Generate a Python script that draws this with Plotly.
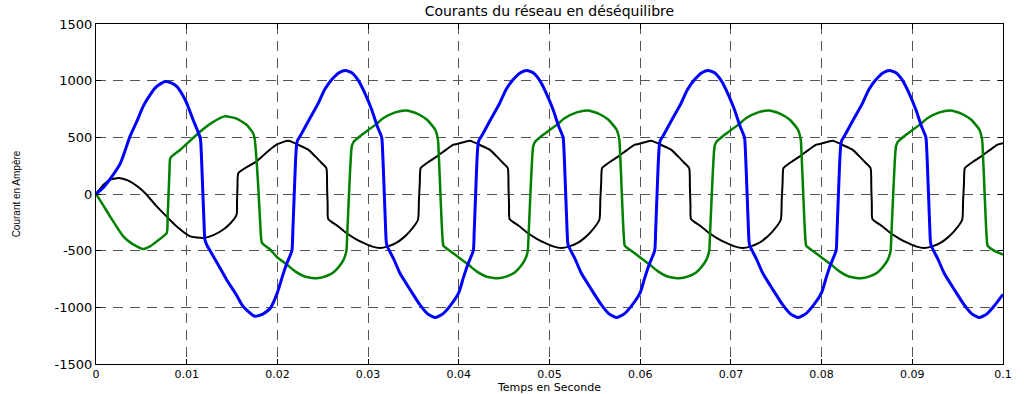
import plotly.graph_objects as go

# ---------------- data ----------------
# Blue phase current (A)
blue_t = [
    0, 0.0008, 0.0015, 0.0027, 0.00375, 0.0045, 0.0052, 0.0060, 0.0067, 0.0076, 0.0083, 0.0089, 0.0095, 0.0100, 0.0107, 0.0115, 0.0116, 0.0117, 0.0118, 0.0119, 0.0120, 0.0122, 0.0133, 0.0144, 0.0154, 0.0162, 0.0175, 0.0184, 0.0192,
    0.0200, 0.0205, 0.0210, 0.0216, 0.0217, 0.0218, 0.0219, 0.0220, 0.0221, 0.0222, 0.0225, 0.0236, 0.0245, 0.0252, 0.0260, 0.0268, 0.0275, 0.0282, 0.0289, 0.0297, 0.0304, 0.0310, 0.0315, 0.0316, 0.0317, 0.0318, 0.0319, 0.0320, 0.0321, 0.0328, 0.0335, 0.0346, 0.0357, 0.0366, 0.0374, 0.0382, 0.0390,
    0.0400, 0.0405, 0.0410, 0.0416, 0.0417, 0.0418, 0.0419, 0.0420, 0.0421, 0.0422, 0.0425, 0.0436, 0.0445, 0.0452, 0.0460, 0.0468, 0.0475, 0.0482, 0.0489, 0.0497, 0.0504, 0.0510, 0.0515, 0.0516, 0.0517, 0.0518, 0.0519, 0.0520, 0.0521, 0.0528, 0.0535, 0.0546, 0.0557, 0.0566, 0.0574, 0.0582, 0.0590,
    0.0600, 0.0605, 0.0610, 0.0616, 0.0617, 0.0618, 0.0619, 0.0620, 0.0621, 0.0622, 0.0625, 0.0636, 0.0645, 0.0652, 0.0660, 0.0668, 0.0675, 0.0682, 0.0689, 0.0697, 0.0704, 0.0710, 0.0715, 0.0716, 0.0717, 0.0718, 0.0719, 0.0720, 0.0721, 0.0728, 0.0735, 0.0746, 0.0757, 0.0766, 0.0774, 0.0782, 0.0790,
    0.0800, 0.0805, 0.0810, 0.0816, 0.0817, 0.0818, 0.0819, 0.0820, 0.0821, 0.0822, 0.0825, 0.0836, 0.0845, 0.0852, 0.0860, 0.0868, 0.0875, 0.0882, 0.0889, 0.0897, 0.0904, 0.0910, 0.0915, 0.0916, 0.0917, 0.0918, 0.0919, 0.0920, 0.0921, 0.0928, 0.0935, 0.0946, 0.0957, 0.0966, 0.0974, 0.0982, 0.0990,
    0.1000,
]
blue_i = [
    0, 55, 126, 273, 508, 640, 773, 880, 949, 993, 980, 949, 880, 802, 655, 494, 380, 180, -30, -230, -400, -447, -600, -756, -880, -991, -1079, -1060, -1010,
    -870, -740, -620, -500, -330, -120, 90, 290, 420, 470, 510, 670, 800, 920, 1010, 1070, 1090, 1070, 1005, 880, 743, 600, 500, 380, 180, -30, -240, -420, -460, -570, -697, -840, -976, -1060, -1090, -1060, -991,
    -870, -740, -620, -500, -330, -120, 90, 290, 420, 470, 510, 670, 800, 920, 1010, 1070, 1090, 1070, 1005, 880, 743, 600, 500, 380, 180, -30, -240, -420, -460, -570, -697, -840, -976, -1060, -1090, -1060, -991,
    -870, -740, -620, -500, -330, -120, 90, 290, 420, 470, 510, 670, 800, 920, 1010, 1070, 1090, 1070, 1005, 880, 743, 600, 500, 380, 180, -30, -240, -420, -460, -570, -697, -840, -976, -1060, -1090, -1060, -991,
    -870, -740, -620, -500, -330, -120, 90, 290, 420, 470, 510, 670, 800, 920, 1010, 1070, 1090, 1070, 1005, 880, 743, 600, 500, 380, 180, -30, -240, -420, -460, -570, -697, -840, -976, -1060, -1090, -1060, -991,
    -885,
]

# Green phase current (A)
green_t = [
    0, 0.0008, 0.00154, 0.0030, 0.0040, 0.0052, 0.0060, 0.0067, 0.0078, 0.0079, 0.0080, 0.0081, 0.0082, 0.0093, 0.0105, 0.0115, 0.0128, 0.0142, 0.0155, 0.0166, 0.0173, 0.0175, 0.0177, 0.0179, 0.0181, 0.0183, 0.0192,
    0.0200, 0.0210, 0.0220, 0.0230, 0.0243, 0.0253, 0.0262, 0.0268, 0.0273, 0.0276, 0.0277, 0.0278, 0.0279, 0.0280, 0.0281, 0.0282, 0.0284, 0.0291, 0.0298, 0.0308, 0.0317, 0.0330, 0.0342, 0.0354, 0.0365, 0.0374, 0.0377, 0.0378, 0.0379, 0.0380, 0.0381, 0.0382, 0.0383, 0.0390,
    0.0400, 0.0410, 0.0420, 0.0430, 0.0443, 0.0453, 0.0462, 0.0468, 0.0473, 0.0476, 0.0477, 0.0478, 0.0479, 0.0480, 0.0481, 0.0482, 0.0484, 0.0491, 0.0498, 0.0508, 0.0517, 0.0530, 0.0542, 0.0554, 0.0565, 0.0574, 0.0577, 0.0578, 0.0579, 0.0580, 0.0581, 0.0582, 0.0583, 0.0590,
    0.0600, 0.0610, 0.0620, 0.0630, 0.0643, 0.0653, 0.0662, 0.0668, 0.0673, 0.0676, 0.0677, 0.0678, 0.0679, 0.0680, 0.0681, 0.0682, 0.0684, 0.0691, 0.0698, 0.0708, 0.0717, 0.0730, 0.0742, 0.0754, 0.0765, 0.0774, 0.0777, 0.0778, 0.0779, 0.0780, 0.0781, 0.0782, 0.0783, 0.0790,
    0.0800, 0.0810, 0.0820, 0.0830, 0.0843, 0.0853, 0.0862, 0.0868, 0.0873, 0.0876, 0.0877, 0.0878, 0.0879, 0.0880, 0.0881, 0.0882, 0.0884, 0.0891, 0.0898, 0.0908, 0.0917, 0.0930, 0.0942, 0.0954, 0.0965, 0.0974, 0.0977, 0.0978, 0.0979, 0.0980, 0.0981, 0.0982, 0.0983, 0.0990,
    0.1000,
]
green_i = [
    0, -100, -197, -374, -440, -485, -460, -418, -344, -200, 0, 200, 317, 391, 480, 552, 630, 685, 665, 611, 540, 485, 300, 50, -250, -432, -490,
    -560, -620, -685, -728, -744, -727, -690, -640, -579, -506, -350, -170, 10, 180, 330, 420, 460, 510, 552, 610, 670, 720, 737, 710, 655, 567, 479, 330, 150, -50, -230, -380, -456, -500,
    -560, -620, -685, -728, -744, -727, -690, -640, -579, -506, -350, -170, 10, 180, 330, 420, 460, 510, 552, 610, 670, 720, 737, 710, 655, 567, 479, 330, 150, -50, -230, -380, -456, -500,
    -560, -620, -685, -728, -744, -727, -690, -640, -579, -506, -350, -170, 10, 180, 330, 420, 460, 510, 552, 610, 670, 720, 737, 710, 655, 567, 479, 330, 150, -50, -230, -380, -456, -500,
    -560, -620, -685, -728, -744, -727, -690, -640, -579, -506, -350, -170, 10, 180, 330, 420, 460, 510, 552, 610, 670, 720, 737, 710, 655, 567, 479, 330, 150, -50, -230, -380, -456, -500,
    -535,
]

# Black phase current (A)
black_t = [
    0, 0.0008, 0.0015, 0.0025, 0.0035, 0.0048, 0.0054, 0.0067, 0.0078, 0.0089, 0.0104, 0.0118, 0.0130, 0.0140, 0.0148, 0.0155, 0.01555, 0.0156, 0.0157, 0.0177, 0.0190,
    0.0200, 0.0212, 0.0225, 0.0234, 0.0242, 0.0248, 0.0254, 0.02548, 0.02554, 0.0256, 0.0266, 0.0276, 0.0286, 0.0295, 0.0304, 0.0313, 0.0322, 0.0331, 0.0339, 0.0346, 0.0355, 0.0356, 0.0357, 0.0358, 0.0367, 0.0376, 0.0385, 0.0394,
    0.0400, 0.0412, 0.0425, 0.0434, 0.0442, 0.0448, 0.0454, 0.04548, 0.04554, 0.0456, 0.0466, 0.0476, 0.0486, 0.0495, 0.0504, 0.0513, 0.0522, 0.0531, 0.0539, 0.0546, 0.0555, 0.0556, 0.0557, 0.0558, 0.0567, 0.0576, 0.0585, 0.0594,
    0.0600, 0.0612, 0.0625, 0.0634, 0.0642, 0.0648, 0.0654, 0.06548, 0.06554, 0.0656, 0.0666, 0.0676, 0.0686, 0.0695, 0.0704, 0.0713, 0.0722, 0.0731, 0.0739, 0.0746, 0.0755, 0.0756, 0.0757, 0.0758, 0.0767, 0.0776, 0.0785, 0.0794,
    0.0800, 0.0812, 0.0825, 0.0834, 0.0842, 0.0848, 0.0854, 0.08548, 0.08554, 0.0856, 0.0866, 0.0876, 0.0886, 0.0895, 0.0904, 0.0913, 0.0922, 0.0931, 0.0939, 0.0946, 0.0955, 0.0956, 0.0957, 0.0958, 0.0967, 0.0976, 0.0985, 0.0994,
    0.1000,
]
black_i = [
    0, 80, 125, 141, 120, 53, 9, -109, -200, -286, -374, -388, -360, -315, -260, -183, -60, 60, 185, 288, 380,
    440, 470, 426, 391, 330, 280, 229, 60, -100, -220, -280, -344, -395, -432, -462, -476, -462, -432, -385, -330, -227, -60, 100, 229, 285, 332, 385, 435,
    445, 470, 426, 391, 330, 280, 229, 60, -100, -220, -280, -344, -395, -432, -462, -476, -462, -432, -385, -330, -227, -60, 100, 229, 285, 332, 385, 435,
    445, 470, 426, 391, 330, 280, 229, 60, -100, -220, -280, -344, -395, -432, -462, -476, -462, -432, -385, -330, -227, -60, 100, 229, 285, 332, 385, 435,
    445, 470, 426, 391, 330, 280, 229, 60, -100, -220, -280, -344, -395, -432, -462, -476, -462, -432, -385, -330, -227, -60, 100, 229, 285, 332, 385, 435,
    448,
]

assert len(blue_t) == len(blue_i), (len(blue_t), len(blue_i))
assert len(green_t) == len(green_i), (len(green_t), len(green_i))
assert len(black_t) == len(black_i), (len(black_t), len(black_i))

x_ticks = [0, 0.01, 0.02, 0.03, 0.04, 0.05, 0.06, 0.07, 0.08, 0.09, 0.1]
x_labels = ["0", "0.01", "0.02", "0.03", "0.04", "0.05", "0.06", "0.07", "0.08", "0.09", "0.1"]
y_ticks = [-1500, -1000, -500, 0, 500, 1000, 1500]
y_labels = ["-1500", "-1000", "-500", "0", "500", "1000", "1500"]

title_text = "Courants du réseau en déséquilibre"
x_title = "Temps en Seconde"
y_title = "Courant en Ampère"

# ---------------- figure ----------------
fig = go.Figure()
line_common = dict(shape="spline", smoothing=0.5)
fig.add_trace(go.Scatter(x=black_t, y=black_i, mode="lines",
                         line=dict(color="#000000", width=2, **line_common), showlegend=False))
fig.add_trace(go.Scatter(x=green_t, y=green_i, mode="lines",
                         line=dict(color="#008000", width=2.5, **line_common), showlegend=False))
fig.add_trace(go.Scatter(x=blue_t, y=blue_i, mode="lines",
                         line=dict(color="#0000ff", width=3, **line_common), showlegend=False))

font_main = "DejaVu Sans, Liberation Sans, Arial, sans-serif"
grid_style = dict(showgrid=True, gridcolor="#555555", gridwidth=1, griddash="10px,7px")

fig.update_layout(
    width=1024, height=394,
    margin=dict(l=96, r=21, t=24, b=30),
    paper_bgcolor="white", plot_bgcolor="white",
    font=dict(family=font_main, size=12, color="black"),
    title=dict(text=title_text, x=0.5365, xref="container", xanchor="center",
               y=1 - 11 / 394, yref="container", yanchor="middle",
               font=dict(family=font_main, size=14, color="black")),
    showlegend=False,
)
fig.update_xaxes(
    range=[0, 0.1], tickmode="array", tickvals=x_ticks, ticktext=x_labels,
    showline=True, linecolor="black", linewidth=1, mirror="ticks",
    ticks="inside", ticklen=5, tickcolor="black", zeroline=False,
    tickfont=dict(family=font_main, size=11, color="black"),
    ticklabelstandoff=0,
    title=dict(text=x_title, standoff=0, font=dict(family=font_main, size=11, color="black")),
    automargin=False, **grid_style,
)
fig.update_yaxes(
    range=[-1500, 1500], tickmode="array", tickvals=y_ticks, ticktext=y_labels,
    showline=True, linecolor="black", linewidth=1, mirror="ticks",
    ticks="inside", ticklen=5, tickcolor="black", zeroline=False,
    tickfont=dict(family=font_main, size=13, color="black"),
    title=dict(text=y_title, standoff=32,
               font=dict(family="Liberation Sans Narrow, Liberation Sans, Arial, sans-serif", size=10, color="black")),
    automargin=False, **grid_style,
)

fig.write_html("out.html", config={"displayModeBar": False},
               post_script="document.body.style.margin='0';document.body.style.padding='0';")
